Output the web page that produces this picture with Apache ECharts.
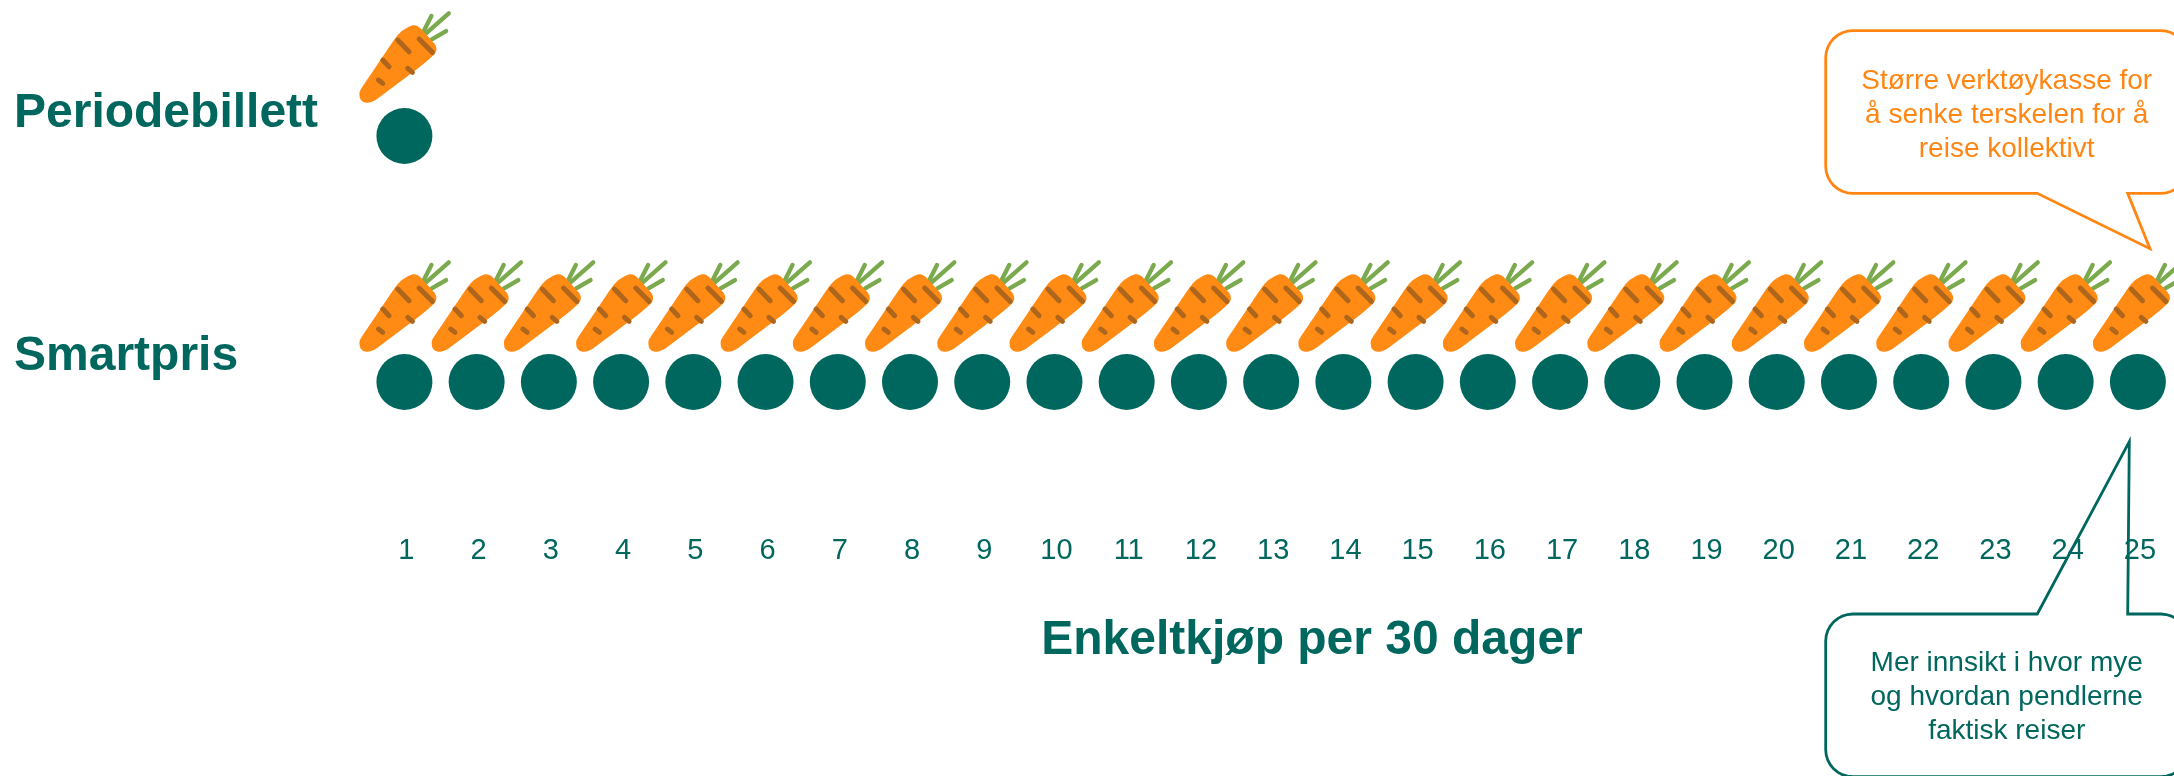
<!DOCTYPE html>
<html><head><meta charset="utf-8">
<style>html,body{margin:0;padding:0;background:#fff}#c{width:2174px;height:776px}</style>
<script src="https://cdn.jsdelivr.net/npm/echarts@6/dist/echarts.min.js"></script>
</head><body><div id="c"></div>
<script>
const rows = ['Smartpris', 'Periodebillett'];
const purchases = ['1','2','3','4','5','6','7','8','9','10','11','12','13','14','15','16','17','18','19','20','21','22','23','24','25'];
const periodebillettDays = ['1'];
const smartprisDays = ['1','2','3','4','5','6','7','8','9','10','11','12','13','14','15','16','17','18','19','20','21','22','23','24','25'];
const axisTitle = 'Enkeltkjøp per 30 dager';
const orangeNote = ['Større verktøykasse for', 'å senke terskelen for å', 'reise kollektivt'];
const greenNote = ['Mer innsikt i hvor mye', 'og hvordan pendlerne', 'faktisk reiser'];

const TEAL = '#00675E', ORANGE = '#FF8613', FONT = '"Liberation Sans", Arial, sans-serif';
const pts = (days, row) => days.map(d => [d, row]);
const allPts = pts(periodebillettDays, 'Periodebillett').concat(pts(smartprisDays, 'Smartpris'));

function line(p, color, w) {
  return {type:'line', shape:{x1:p[0],y1:p[1],x2:p[2],y2:p[3]}, style:{stroke:color,lineWidth:w,lineCap:'round',fill:null}};
}
const LEAF = '#7BAA4E', STRIPE = '#AE661C';
const leaves = [[250,95,274,48],[258,100,326,40],[275,118,318,93]];
const stripes = [[173,120,207,155],[237,117,277,157],[128,180,147,200],[203,205,217,217],[115,240,128,250]];
const body = 'M58 282 Q58 272 66 262 L160 122 Q185 85 218 76 Q232 74 244 88 L284 132 Q296 150 280 166 Q260 185 230 208 L110 298 Q92 310 78 308 Q58 306 58 282 Z';
const lift = {0:-30.3, 1:-33.3};
const parts = () => [
    ...leaves.map(l => line(l, LEAF, 13)),
    {type:'path', shape:{pathData:body}, style:{fill:'#FF8A14'}},
    ...stripes.map(l => line(l, STRIPE, 15))
];
function carrot(params, api) {
  const p = api.coord([api.value(0), api.value(1)]);
  const ay = p[1] + lift[api.value(1)];
  return {type:'group', x:p[0]-193/3, y:ay-308/3, scaleX:1/3, scaleY:1/3, children:parts()};
}

function rounded(l, t, r, b, rad, pointer, onTop) {
  const arc = (cx, cy, a0) => { const o=[]; for (let i=0;i<=8;i++){const a=(a0+i*90/8)*Math.PI/180; o.push([cx+rad*Math.cos(a), cy+rad*Math.sin(a)]);} return o; };
  return [...arc(l+rad,t+rad,180), ...(onTop?pointer:[]), ...arc(r-rad,t+rad,270), ...arc(r-rad,b-rad,0), ...(onTop?[]:pointer), ...arc(l+rad,b-rad,90)];
}
function noteText(linesArr, x, ys, color) {
  return linesArr.map((t,i)=>({type:'text', z:10, style:{text:t, x, y:ys[i], textAlign:'center', textVerticalAlign:'middle', font:'28px '+FONT, fill:color}}));
}
const rowStyle = f => ({color:TEAL, fontFamily:FONT, fontSize:48, fontWeight:'bold', lineHeight:f});
const chart = echarts.init(document.getElementById('c'), null, {renderer:'canvas'});
chart.setOption({
  animation:false,
  backgroundColor:'#fff',
  title:{text:axisTitle, left:1307, top:612, textAlign:'center', textStyle:{fontFamily:FONT, fontSize:48, fontWeight:'bold', color:TEAL}},
  grid:{left:368.3, width:1810, top:136, height:246, containLabel:false},
  xAxis:{type:'category', data:purchases, axisLine:{show:false}, axisTick:{show:false}, splitLine:{show:false},
    axisLabel:{interval:0, margin:154, color:TEAL, fontFamily:FONT, fontSize:29, padding:[0,0,0,4]}},
  yAxis:{type:'category', data:rows, boundaryGap:false, axisLine:{show:false}, axisTick:{show:false}, splitLine:{show:false},
    axisLabel:{margin:354.3, align:'left', verticalAlign:'bottom', color:TEAL, fontFamily:FONT, fontSize:48, fontWeight:'bold',
      formatter:v => (v === 'Smartpris' ? '{s|' : '{p|') + v + '}', rich:{s:rowStyle(50), p:rowStyle(44)}}},
  series:[
    {type:'scatter', name:'Enkeltkjøp', data:allPts, symbol:'circle', symbolSize:56, clip:false, itemStyle:{color:TEAL,opacity:1}, silent:true},
    {type:'custom', name:'Gulrot', data:allPts, coordinateSystem:'cartesian2d', encode:{x:0,y:1}, renderItem:carrot, clip:false, silent:true}
  ],
  graphic:[
    {type:'polygon', z:9, shape:{points:rounded(1825.7,30.7,2188,193.3,27,[[2127.7,193.3],[2150,248.7],[2037.3,193.3]],false)}, style:{fill:'none',stroke:ORANGE,lineWidth:2.8}},
    {type:'polygon', z:9, shape:{points:rounded(1825.7,614,2188,776.7,27,[[2037.3,614],[2129.3,441.7],[2127.7,614]],true)}, style:{fill:'none',stroke:TEAL,lineWidth:2.8}},
    ...noteText(orangeNote,2006.7,[81,115,149],ORANGE),
    ...noteText(greenNote,2006.7,[663,697.5,731.5],TEAL)
  ]
});
</script></body></html>
